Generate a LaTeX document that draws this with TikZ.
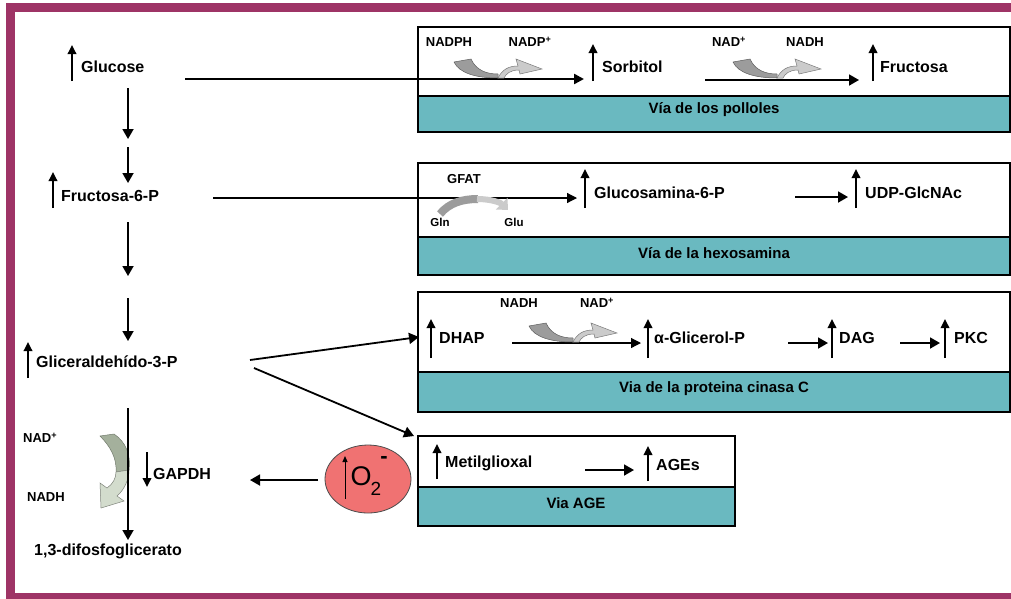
\documentclass[tikz,border=0pt]{standalone}
\usepackage{fontspec}
\setmainfont{Liberation Sans}
\usetikzlibrary{arrows.meta,shapes.geometric}
\definecolor{frame}{HTML}{9E3466}
\definecolor{tealband}{HTML}{6AB9C0}
\definecolor{oxy}{HTML}{F07272}
\definecolor{gapA}{HTML}{A4B09C}
\definecolor{gapB}{HTML}{D3DCCD}
\definecolor{cofA}{HTML}{9C9C9C}
\definecolor{cofB}{HTML}{CBCBCB}
\tikzset{
  lbl/.style={font=\bfseries\fontsize{16}{18}\selectfont, inner sep=0pt, anchor=west},
  sm/.style={font=\bfseries\fontsize{13}{15}\selectfont, inner sep=0pt},
  tiny/.style={font=\bfseries\fontsize{11.5}{12}\selectfont, inner sep=0pt},
  ttl/.style={font=\bfseries\fontsize{15}{17}\selectfont, inner sep=0pt},
  uparr/.style={line width=1.8pt, -{Triangle[length=9pt,width=8.5pt]}},
  flow/.style={line width=1.8pt, -{Triangle[length=10pt,width=11pt]}},
  thinflow/.style={line width=1.2pt, -{Triangle[length=10pt,width=10pt]}},
  boxline/.style={draw=black, line width=1.8pt},
  band/.style={fill=tealband, draw=black, line width=1.8pt},
  pics/cofactor/.style={code={
    \filldraw[fill=cofA, draw=cofA!60!black, line width=0.5pt]
      (-42,-16) -- (-25,-19) .. controls (-20,-8) and (-10,-4) .. (2,-4)
      -- (2,0) .. controls (-20,0) and (-37,-5) .. (-42,-16) -- cycle;
    \filldraw[fill=cofB, draw=cofB!60!black, line width=0.5pt]
      (2,0) .. controls (6,-8) and (12,-12) .. (22,-12) -- (20,-19) -- (46,-9)
      -- (24,-4) -- (23,-8) .. controls (14,-8) and (10,-4) .. (8,0) -- cycle;
  }}
}
\begin{document}
\begin{tikzpicture}[x=1pt,y=-1pt]
\useasboundingbox (0,0) rectangle (1011,598);
\fill[white] (0,0) rectangle (1011,598);
% frame
\draw[frame, line width=9pt] (10,7.5) rectangle (1040,597.5);

% ---- boxes ----
\draw[boxline, fill=white] (418,27) rectangle (1010,96);
\draw[band] (418,96) rectangle (1010,132);
\draw[boxline, fill=white] (418,163) rectangle (1010,237);
\draw[band] (418,237) rectangle (1010,275);
\draw[boxline, fill=white] (418,292) rectangle (1010,372);
\draw[band] (418,372) rectangle (1010,412);
\draw[boxline, fill=white] (418,436) rectangle (735,487);
\draw[band] (418,487) rectangle (735,526);

\node[ttl] (t1) at (714,110) {Vía de los polloles};
\node[ttl] (t2) at (714,253) {Vía de la hexosamina};
\node[ttl] (t3) at (714,389) {Via de la proteina cinasa C};
\node[ttl] (t4) at (576,503) {Via AGE};

% ---- left column ----
\node[lbl] (gluc) at (81,67) {Glucose};
\draw[uparr] (72,81) -- (72,45);
\node[lbl] (fru6p) at (61,196) {Fructosa-6-P};
\draw[uparr] (53,208) -- (53,172);
\node[lbl] (gap) at (36,362) {Gliceraldehído-3-P};
\draw[uparr] (28,378) -- (28,342);
\node[lbl] (dpg) at (34,551) {1,3-difosfoglicerato};

\coordinate (v1) at (128,88);  \coordinate (v2) at (128,139);
\coordinate (v3) at (128,147); \coordinate (v4) at (128,183);
\coordinate (v5) at (128,222); \coordinate (v6) at (128,276);
\coordinate (v7) at (128,298); \coordinate (v8) at (128,341);
\coordinate (v9) at (128,408); \coordinate (v10) at (128,540);
\draw[flow] (v1) -- (v2);
\draw[flow] (v3) -- (v4);
\draw[flow] (v5) -- (v6);
\draw[flow] (v7) -- (v8);

% GAPDH step
\filldraw[fill=gapA, draw=gapA!70!black, line width=0.5pt]
  (100,436) -- (114,434) .. controls (126,442) and (131,455) .. (129,470)
  -- (116,472) .. controls (117,458) and (110,446) .. (100,436) -- cycle;
\filldraw[fill=gapB, draw=gapB!60!black, line width=0.5pt]
  (116,472) -- (129,470) .. controls (129,480) and (124,490) .. (117,496)
  -- (124,501) -- (101,508) -- (100,483) -- (107,488)
  .. controls (113,484) and (116,478) .. (116,472) -- cycle;
\draw[flow] (v9) -- (v10);
\node[sm, anchor=west] (nadl) at (23,438) {NAD\textsuperscript{+}};
\node[sm, anchor=west] (nadhl) at (27,497) {NADH};
\draw[uparr] (147,452) -- (147,487);
\node[lbl] (gapdh) at (153,474) {GAPDH};

% O2 radical
\node[ellipse, draw=black!70, line width=0.8pt, fill=oxy, minimum width=86pt, minimum height=68pt] (o2) at (368,479) {};
\draw[line width=1pt, -{Triangle[length=6pt,width=5pt]}] (345,499) -- (345,456);
\node[inner sep=0pt, font=\fontsize{27}{28}\selectfont] (o2t) at (361,476) {O};
\node[inner sep=0pt, font=\fontsize{19}{20}\selectfont] (o2s) at (376,489) {2};
\node[inner sep=0pt, font=\bfseries\fontsize{22}{22}\selectfont] (o2m) at (384,460) {-};
\coordinate (o2w) at (318,480);
\coordinate (gapdhe) at (250,480);
\draw[flow] (o2w) -- (gapdhe);

% ---- polyol pathway ----
\coordinate (gl1) at (185,79);
\coordinate (so0) at (584,79);
\draw[line width=2.4pt, -{Triangle[length=10pt,width=10pt]}] (gl1) -- (so0);
\node[sm] (nadph) at (449,42) {NADPH};
\node[sm] (nadp) at (530,42) {NADP\textsuperscript{+}};
\pic at (496,78) {cofactor};
\draw[uparr] (593,81) -- (593,44);
\node[lbl] (sorb) at (602,67) {Sorbitol};
\coordinate (so1) at (705,80);
\coordinate (fr0) at (859,80);
\draw[flow] (so1) -- (fr0);
\node[sm] (nad1) at (729,42) {NAD\textsuperscript{+}};
\node[sm] (nadh1) at (805,42) {NADH};
\pic at (775,78) {cofactor};
\draw[uparr] (873,81) -- (873,44);
\node[lbl] (fruc) at (880,67) {Fructosa};

% ---- hexosamine ----
\coordinate (f1) at (213,198);
\coordinate (gn0) at (577,198);
\draw[thinflow] (f1) -- (gn0);
\node[sm] (gfat) at (464,179) {GFAT};
\node[tiny] (gln) at (440,222) {Gln};
\node[tiny] (glu) at (514,222) {Glu};
\draw[line width=8pt, cofA] (440,214) .. controls (449,203) and (462,199) .. (478,199);
\draw[line width=6pt, cofB, -{Triangle[length=9pt,width=16pt]}] (477,199) .. controls (492,199) and (501,203) .. (508,210);
\draw[uparr] (585,208) -- (585,169);
\node[lbl] (glcn) at (594,193) {Glucosamina-6-P};
\coordinate (u0) at (795,197);
\coordinate (u1) at (848,197);
\draw[flow] (u0) -- (u1);
\draw[uparr] (856,208) -- (856,169);
\node[lbl] (udp) at (865,193) {UDP-GlcNAc};

% ---- PKC pathway ----
\coordinate (ga1) at (250,360);
\coordinate (dh0) at (419,337);
\draw[flow] (ga1) -- (dh0);
\draw[uparr] (431,358) -- (431,319);
\node[lbl] (dhap) at (439,338) {DHAP};
\coordinate (dh1) at (512,343);
\coordinate (ag0) at (641,343);
\draw[thinflow] (dh1) -- (ag0);
\node[sm] (nadh2) at (519,303) {NADH};
\node[sm] (nad2) at (597,303) {NAD\textsuperscript{+}};
\pic at (571,342) {cofactor};
\draw[uparr] (648,358) -- (648,319);
\node[lbl] (agp) at (654,338) {α-Glicerol-P};
\coordinate (ag1) at (788,343);
\coordinate (da0) at (828,343);
\draw[flow] (ag1) -- (da0);
\draw[uparr] (832,358) -- (832,319);
\node[lbl] (dag) at (839,338) {DAG};
\coordinate (da1) at (900,343);
\coordinate (pk0) at (940,343);
\draw[flow] (da1) -- (pk0);
\draw[uparr] (945,358) -- (945,319);
\node[lbl] (pkc) at (954,338) {PKC};

% ---- AGE pathway ----
\coordinate (ga2) at (254,368);
\coordinate (me0) at (414,436);
\draw[flow] (ga2) -- (me0);
\draw[uparr] (437,479) -- (437,444);
\node[lbl] (metil) at (445,463) {Metilglioxal};
\coordinate (me1) at (585,470);
\coordinate (ae0) at (634,470);
\draw[flow] (me1) -- (ae0);
\draw[uparr] (648,481) -- (648,446);
\node[lbl] (ages) at (656,465) {AGEs};
\end{tikzpicture}
\end{document}
